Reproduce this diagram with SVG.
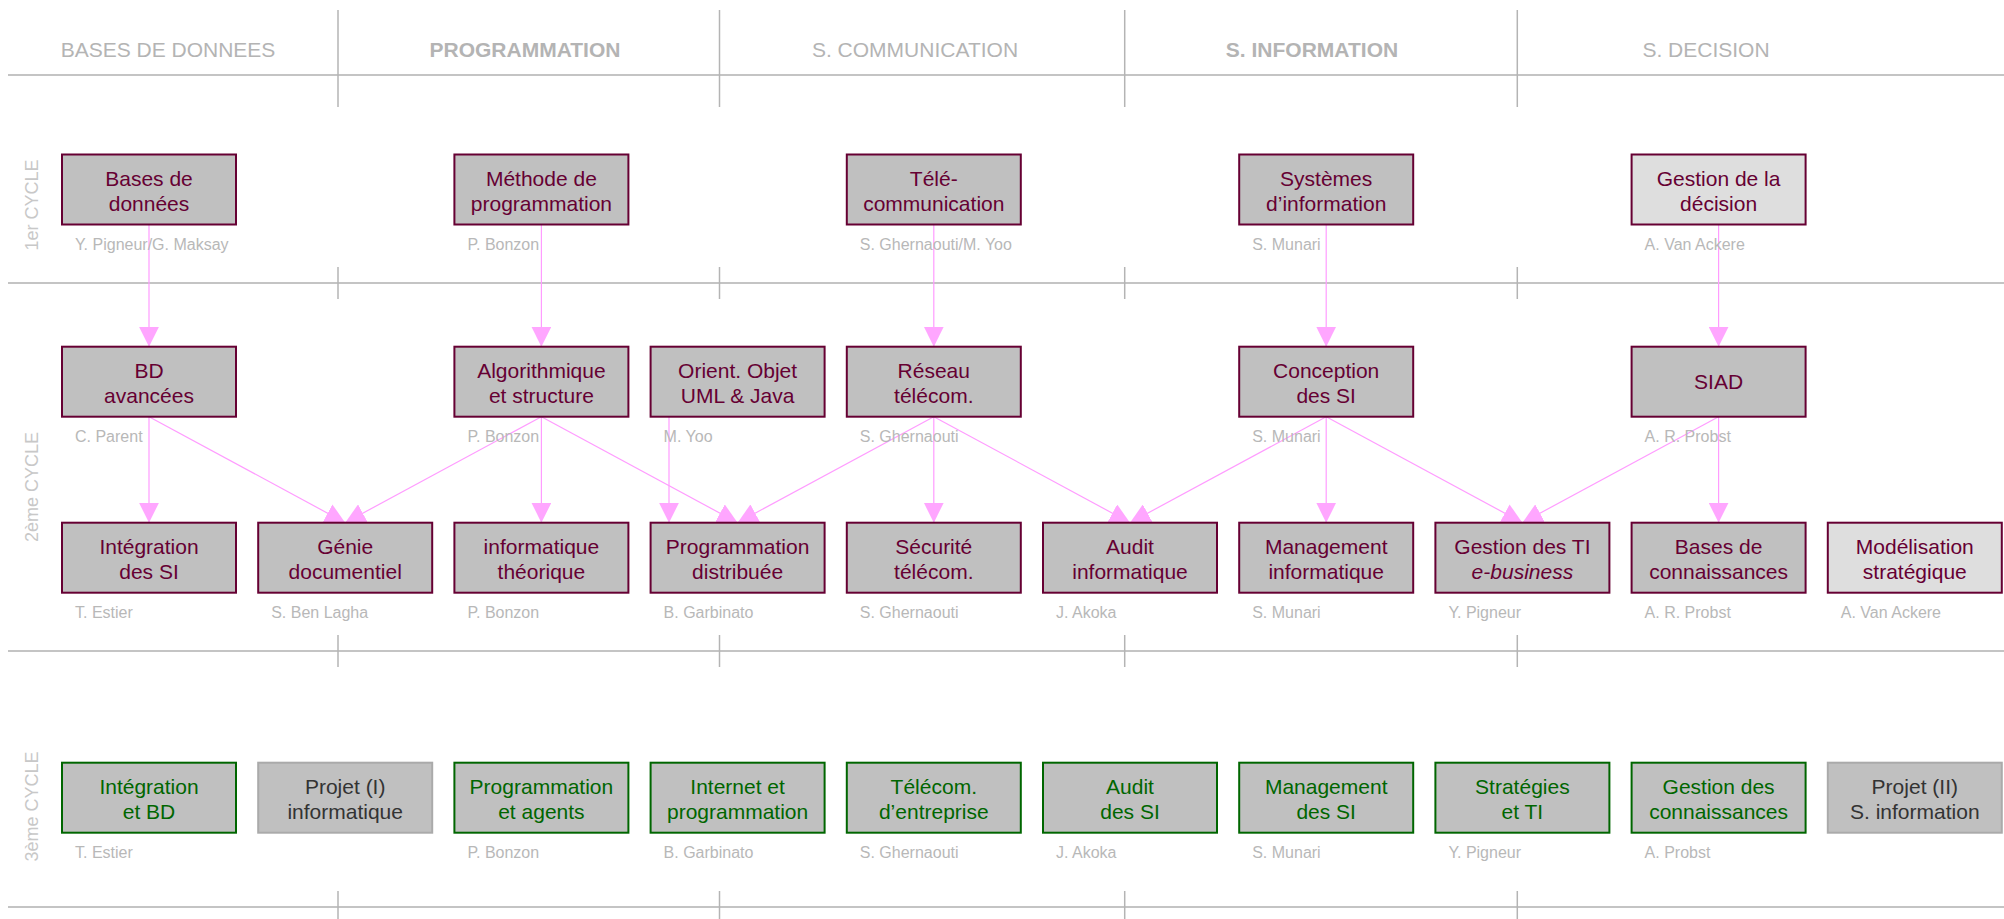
<svg xmlns="http://www.w3.org/2000/svg" width="2004" height="919" viewBox="0 0 2004 919">
<style>
.bg{fill:#ffffff}
.hl{stroke:#c4c4c4;stroke-width:2;fill:none}
.vl{stroke:#b4b4b4;stroke-width:1.5;fill:none}
.hd{font-family:"Liberation Sans",Arial,sans-serif;font-size:21px;fill:#b4b4b4;text-anchor:middle}
.hdb{font-weight:bold}
.cy{font-family:"Liberation Sans",Arial,sans-serif;font-size:18px;fill:#c8c8c8;text-anchor:middle}
.bx{fill:#c0c0c0;stroke:#660033;stroke-width:2}
.bxl{fill:#dedede;stroke:#660033;stroke-width:2}
.bxg{fill:#c0c0c0;stroke:#006600;stroke-width:2}
.bxp{fill:#c0c0c0;stroke:#aaaaaa;stroke-width:2}
.t{font-family:"Liberation Sans",Arial,sans-serif;font-size:21px;fill:#660033;text-anchor:middle}
.tg{fill:#006600}
.tp{fill:#333333}
.au{font-family:"Liberation Sans",Arial,sans-serif;font-size:16px;fill:#b8b8b8}
.cn{stroke:#ff9cff;stroke-width:1.2;fill:none;marker-end:url(#ah)}
</style>
<defs>
<marker id="ah" markerUnits="userSpaceOnUse" markerWidth="20" markerHeight="20" viewBox="0 0 20 20" refX="20" refY="10" orient="auto">
<path d="M0,0 L20,10 L0,20 z" fill="#ffa6ff"/>
</marker>
</defs>
<rect class="bg" x="0" y="0" width="2004" height="919"/>

<g id="grid">
<line class="hl" x1="8" y1="75" x2="2004" y2="75"/>
<line class="hl" x1="8" y1="283" x2="2004" y2="283"/>
<line class="hl" x1="8" y1="651" x2="2004" y2="651"/>
<line class="hl" x1="8" y1="907" x2="2004" y2="907"/>
<line class="vl" x1="338" y1="10" x2="338" y2="107"/>
<line class="vl" x1="719.5" y1="10" x2="719.5" y2="107"/>
<line class="vl" x1="1124.7" y1="10" x2="1124.7" y2="107"/>
<line class="vl" x1="1517.3" y1="10" x2="1517.3" y2="107"/>
<line class="vl" x1="338" y1="267" x2="338" y2="299"/>
<line class="vl" x1="719.5" y1="267" x2="719.5" y2="299"/>
<line class="vl" x1="1124.7" y1="267" x2="1124.7" y2="299"/>
<line class="vl" x1="1517.3" y1="267" x2="1517.3" y2="299"/>
<line class="vl" x1="338" y1="635" x2="338" y2="667"/>
<line class="vl" x1="719.5" y1="635" x2="719.5" y2="667"/>
<line class="vl" x1="1124.7" y1="635" x2="1124.7" y2="667"/>
<line class="vl" x1="1517.3" y1="635" x2="1517.3" y2="667"/>
<line class="vl" x1="338" y1="891" x2="338" y2="919"/>
<line class="vl" x1="719.5" y1="891" x2="719.5" y2="919"/>
<line class="vl" x1="1124.7" y1="891" x2="1124.7" y2="919"/>
<line class="vl" x1="1517.3" y1="891" x2="1517.3" y2="919"/>
</g>

<g id="headers">
<text class="hd" x="168" y="57">BASES DE DONNEES</text>
<text class="hd hdb" x="525" y="57">PROGRAMMATION</text>
<text class="hd" x="915" y="57">S. COMMUNICATION</text>
<text class="hd hdb" x="1312" y="57">S. INFORMATION</text>
<text class="hd" x="1706" y="57">S. DECISION</text>
<text class="cy" transform="translate(38,205) rotate(-90)">1er CYCLE</text>
<text class="cy" transform="translate(38,487) rotate(-90)">2ème CYCLE</text>
<text class="cy" transform="translate(38,806.5) rotate(-90)">3ème CYCLE</text>
</g>

<g id="connectors">
<line class="cn" x1="149" y1="224.5" x2="149" y2="346.7"/>
<line class="cn" x1="541.4" y1="224.5" x2="541.4" y2="346.7"/>
<line class="cn" x1="933.8" y1="224.5" x2="933.8" y2="346.7"/>
<line class="cn" x1="1326.2" y1="224.5" x2="1326.2" y2="346.7"/>
<line class="cn" x1="1718.6" y1="224.5" x2="1718.6" y2="346.7"/>
<line class="cn" x1="149" y1="416.7" x2="149" y2="522.7"/>
<line class="cn" x1="541.4" y1="416.7" x2="541.4" y2="522.7"/>
<line class="cn" x1="669" y1="416.7" x2="669" y2="522.7"/>
<line class="cn" x1="933.8" y1="416.7" x2="933.8" y2="522.7"/>
<line class="cn" x1="1326.2" y1="416.7" x2="1326.2" y2="522.7"/>
<line class="cn" x1="1718.6" y1="416.7" x2="1718.6" y2="522.7"/>
<line class="cn" x1="149" y1="416.7" x2="345.2" y2="522.7"/>
<line class="cn" x1="541.4" y1="416.7" x2="345.2" y2="522.7"/>
<line class="cn" x1="541.4" y1="416.7" x2="737.6" y2="522.7"/>
<line class="cn" x1="933.8" y1="416.7" x2="737.6" y2="522.7"/>
<line class="cn" x1="933.8" y1="416.7" x2="1130" y2="522.7"/>
<line class="cn" x1="1326.2" y1="416.7" x2="1130" y2="522.7"/>
<line class="cn" x1="1326.2" y1="416.7" x2="1522.4" y2="522.7"/>
<line class="cn" x1="1718.6" y1="416.7" x2="1522.4" y2="522.7"/>
</g>

<!-- Row 1 -->
<g id="bd1">
<rect class="bx" x="62" y="154.5" width="174" height="70"/>
<text class="t" x="149" y="185.5">Bases de</text>
<text class="t" x="149" y="211">données</text>
<text class="au" x="75" y="250">Y. Pigneur/G. Maksay</text>
</g>
<g id="prog1">
<rect class="bx" x="454.4" y="154.5" width="174" height="70"/>
<text class="t" x="541.4" y="185.5">Méthode de</text>
<text class="t" x="541.4" y="211">programmation</text>
<text class="au" x="467.4" y="250">P. Bonzon</text>
</g>
<g id="com1">
<rect class="bx" x="846.8" y="154.5" width="174" height="70"/>
<text class="t" x="933.8" y="185.5">Télé-</text>
<text class="t" x="933.8" y="211">communication</text>
<text class="au" x="859.8" y="250">S. Ghernaouti/M. Yoo</text>
</g>
<g id="si1">
<rect class="bx" x="1239.2" y="154.5" width="174" height="70"/>
<text class="t" x="1326.2" y="185.5">Systèmes</text>
<text class="t" x="1326.2" y="211">d’information</text>
<text class="au" x="1252.2" y="250">S. Munari</text>
</g>
<g id="dec1">
<rect class="bxl" x="1631.6" y="154.5" width="174" height="70"/>
<text class="t" x="1718.6" y="185.5">Gestion de la</text>
<text class="t" x="1718.6" y="211">décision</text>
<text class="au" x="1644.6" y="250">A. Van Ackere</text>
</g>

<!-- Row 2 -->
<g id="bdav">
<rect class="bx" x="62" y="346.7" width="174" height="70"/>
<text class="t" x="149" y="377.7">BD</text>
<text class="t" x="149" y="403">avancées</text>
<text class="au" x="75" y="442">C. Parent</text>
</g>
<g id="algo">
<rect class="bx" x="454.4" y="346.7" width="174" height="70"/>
<text class="t" x="541.4" y="377.7">Algorithmique</text>
<text class="t" x="541.4" y="403">et structure</text>
<text class="au" x="467.4" y="442">P. Bonzon</text>
</g>
<g id="oo">
<rect class="bx" x="650.6" y="346.7" width="174" height="70"/>
<text class="t" x="737.6" y="377.7">Orient. Objet</text>
<text class="t" x="737.6" y="403">UML &amp; Java</text>
<text class="au" x="663.6" y="442">M. Yoo</text>
</g>
<g id="reseau">
<rect class="bx" x="846.8" y="346.7" width="174" height="70"/>
<text class="t" x="933.8" y="377.7">Réseau</text>
<text class="t" x="933.8" y="403">télécom.</text>
<text class="au" x="859.8" y="442">S. Ghernaouti</text>
</g>
<g id="concep">
<rect class="bx" x="1239.2" y="346.7" width="174" height="70"/>
<text class="t" x="1326.2" y="377.7">Conception</text>
<text class="t" x="1326.2" y="403">des SI</text>
<text class="au" x="1252.2" y="442">S. Munari</text>
</g>
<g id="siad">
<rect class="bx" x="1631.6" y="346.7" width="174" height="70"/>
<text class="t" x="1718.6" y="389.3">SIAD</text>
<text class="au" x="1644.6" y="442">A. R. Probst</text>
</g>

<!-- Row 3 -->
<g id="integ">
<rect class="bx" x="62" y="522.7" width="174" height="70"/>
<text class="t" x="149" y="553.5">Intégration</text>
<text class="t" x="149" y="579">des SI</text>
<text class="au" x="75" y="618">T. Estier</text>
</g>
<g id="genie">
<rect class="bx" x="258.2" y="522.7" width="174" height="70"/>
<text class="t" x="345.2" y="553.5">Génie</text>
<text class="t" x="345.2" y="579">documentiel</text>
<text class="au" x="271.2" y="618">S. Ben Lagha</text>
</g>
<g id="infoth">
<rect class="bx" x="454.4" y="522.7" width="174" height="70"/>
<text class="t" x="541.4" y="553.5">informatique</text>
<text class="t" x="541.4" y="579">théorique</text>
<text class="au" x="467.4" y="618">P. Bonzon</text>
</g>
<g id="progdist">
<rect class="bx" x="650.6" y="522.7" width="174" height="70"/>
<text class="t" x="737.6" y="553.5">Programmation</text>
<text class="t" x="737.6" y="579">distribuée</text>
<text class="au" x="663.6" y="618">B. Garbinato</text>
</g>
<g id="secu">
<rect class="bx" x="846.8" y="522.7" width="174" height="70"/>
<text class="t" x="933.8" y="553.5">Sécurité</text>
<text class="t" x="933.8" y="579">télécom.</text>
<text class="au" x="859.8" y="618">S. Ghernaouti</text>
</g>
<g id="audit">
<rect class="bx" x="1043" y="522.7" width="174" height="70"/>
<text class="t" x="1130" y="553.5">Audit</text>
<text class="t" x="1130" y="579">informatique</text>
<text class="au" x="1056" y="618">J. Akoka</text>
</g>
<g id="mgmt">
<rect class="bx" x="1239.2" y="522.7" width="174" height="70"/>
<text class="t" x="1326.2" y="553.5">Management</text>
<text class="t" x="1326.2" y="579">informatique</text>
<text class="au" x="1252.2" y="618">S. Munari</text>
</g>
<g id="gesti">
<rect class="bx" x="1435.4" y="522.7" width="174" height="70"/>
<text class="t" x="1522.4" y="553.5">Gestion des TI</text>
<text class="t" x="1522.4" y="579" font-style="italic">e-business</text>
<text class="au" x="1448.4" y="618">Y. Pigneur</text>
</g>
<g id="bconn">
<rect class="bx" x="1631.6" y="522.7" width="174" height="70"/>
<text class="t" x="1718.6" y="553.5">Bases de</text>
<text class="t" x="1718.6" y="579">connaissances</text>
<text class="au" x="1644.6" y="618">A. R. Probst</text>
</g>
<g id="modstrat">
<rect class="bxl" x="1827.8" y="522.7" width="174" height="70"/>
<text class="t" x="1914.8" y="553.5">Modélisation</text>
<text class="t" x="1914.8" y="579">stratégique</text>
<text class="au" x="1840.8" y="618">A. Van Ackere</text>
</g>

<!-- Row 4 -->
<g id="integbd">
<rect class="bxg" x="62" y="762.7" width="174" height="70"/>
<text class="t tg" x="149" y="793.5">Intégration</text>
<text class="t tg" x="149" y="819">et BD</text>
<text class="au" x="75" y="858">T. Estier</text>
</g>
<g id="projet1">
<rect class="bxp" x="258.2" y="762.7" width="174" height="70"/>
<text class="t tp" x="345.2" y="793.5">Projet (I)</text>
<text class="t tp" x="345.2" y="819">informatique</text>
</g>
<g id="progag">
<rect class="bxg" x="454.4" y="762.7" width="174" height="70"/>
<text class="t tg" x="541.4" y="793.5">Programmation</text>
<text class="t tg" x="541.4" y="819">et agents</text>
<text class="au" x="467.4" y="858">P. Bonzon</text>
</g>
<g id="internet">
<rect class="bxg" x="650.6" y="762.7" width="174" height="70"/>
<text class="t tg" x="737.6" y="793.5">Internet et</text>
<text class="t tg" x="737.6" y="819">programmation</text>
<text class="au" x="663.6" y="858">B. Garbinato</text>
</g>
<g id="telent">
<rect class="bxg" x="846.8" y="762.7" width="174" height="70"/>
<text class="t tg" x="933.8" y="793.5">Télécom.</text>
<text class="t tg" x="933.8" y="819">d’entreprise</text>
<text class="au" x="859.8" y="858">S. Ghernaouti</text>
</g>
<g id="auditsi">
<rect class="bxg" x="1043" y="762.7" width="174" height="70"/>
<text class="t tg" x="1130" y="793.5">Audit</text>
<text class="t tg" x="1130" y="819">des SI</text>
<text class="au" x="1056" y="858">J. Akoka</text>
</g>
<g id="mgmtsi">
<rect class="bxg" x="1239.2" y="762.7" width="174" height="70"/>
<text class="t tg" x="1326.2" y="793.5">Management</text>
<text class="t tg" x="1326.2" y="819">des SI</text>
<text class="au" x="1252.2" y="858">S. Munari</text>
</g>
<g id="strat">
<rect class="bxg" x="1435.4" y="762.7" width="174" height="70"/>
<text class="t tg" x="1522.4" y="793.5">Stratégies</text>
<text class="t tg" x="1522.4" y="819">et TI</text>
<text class="au" x="1448.4" y="858">Y. Pigneur</text>
</g>
<g id="gconn">
<rect class="bxg" x="1631.6" y="762.7" width="174" height="70"/>
<text class="t tg" x="1718.6" y="793.5">Gestion des</text>
<text class="t tg" x="1718.6" y="819">connaissances</text>
<text class="au" x="1644.6" y="858">A. Probst</text>
</g>
<g id="projet2">
<rect class="bxp" x="1827.8" y="762.7" width="174" height="70"/>
<text class="t tp" x="1914.8" y="793.5">Projet (II)</text>
<text class="t tp" x="1914.8" y="819">S. information</text>
</g>
</svg>
